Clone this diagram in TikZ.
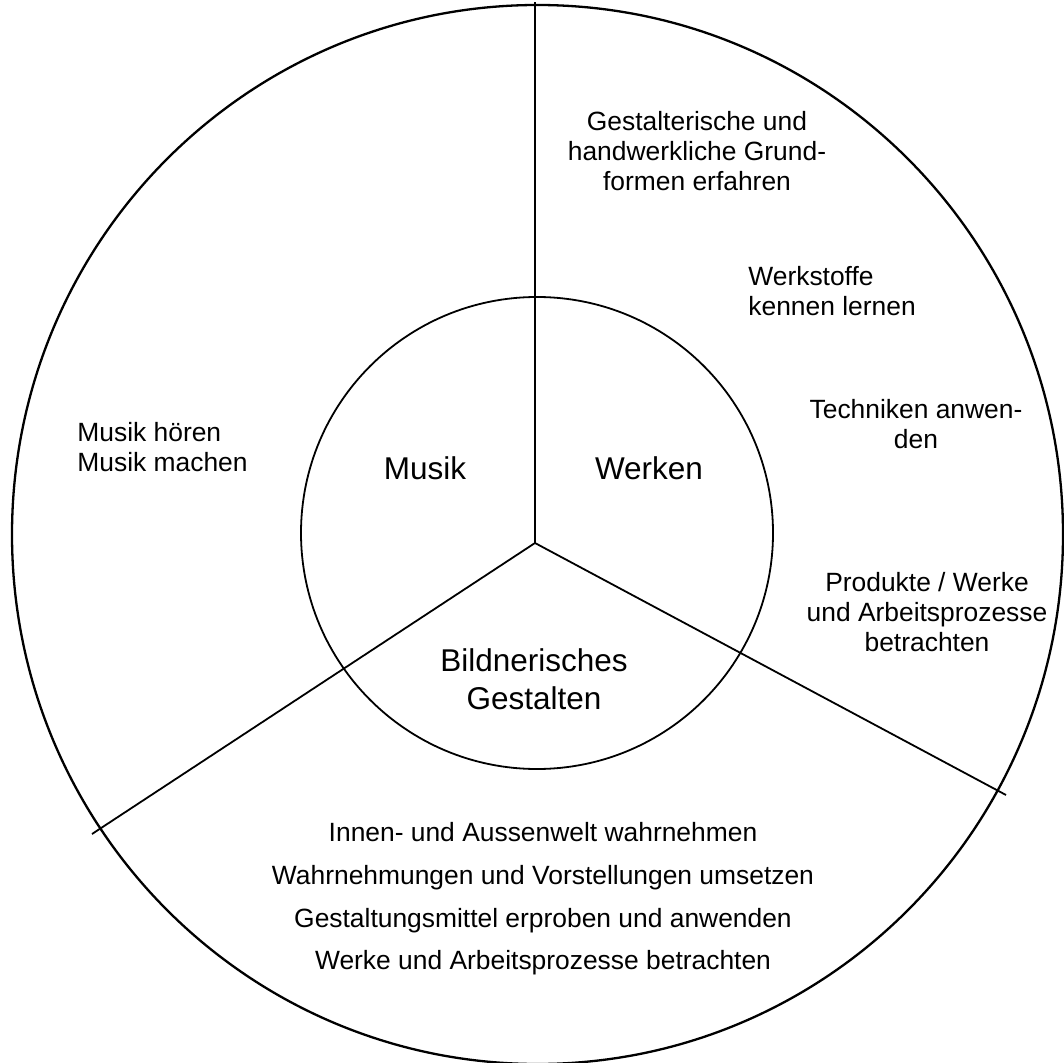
\documentclass[tikz,border=0pt]{standalone}
\usepackage{fontspec}
\setmainfont{Liberation Sans}
\begin{document}
\begin{tikzpicture}[x=0.5pt,y=-0.5pt,
  ring/.style={draw=black,line width=1.15pt},
  spoke/.style={draw=black,line width=0.9pt},
  item/.style={font=\fontsize{13.2}{15.2}\selectfont,inner sep=0pt},
  area/.style={font=\fontsize{15.75}{19}\selectfont,inner sep=0pt}]
\useasboundingbox (0,0) rectangle (1064,1063);
% centres and spoke ends
\coordinate (mid) at (537.5,534.5);
\coordinate (hub) at (535,543);
\coordinate (topend) at (535,2);
\coordinate (leftend) at (92,834);
\coordinate (rightend) at (1006,795);
% circles
\draw[ring] (mid) ellipse[x radius=262.75pt, y radius=264.75pt];
\draw[spoke] (537,533) circle[radius=118pt];
% spokes
\draw[spoke] (hub) -- (topend);
\draw[spoke] (hub) -- (leftend);
\draw[spoke] (hub) -- (rightend);
% inner labels
\node[area,anchor=base] (musik) at (425,480) {Musik};
\node[area,anchor=base] (werken) at (649,480) {Werken};
\node[area,align=center] (bild) at (534,679) {Bildnerisches\\Gestalten};
% outer labels
\node[item,align=center] (grund) at (697,151) {Gestalterische und\\handwerkliche Grund-\\formen erfahren};
\node[item,align=left,anchor=west] (stoffe) at (748,291) {Werkstoffe\\kennen lernen};
\node[item,align=center] (tech) at (916,424) {Techniken anwen-\\den};
\node[item,align=center] (prod) at (927,612) {Produkte / Werke\\und Arbeitsprozesse\\betrachten};
\node[item,align=left,anchor=west] (mus) at (77,447) {Musik hören\\Musik machen};
\node[item,align=center,font=\fontsize{13.2}{21.3}\selectfont] (bg) at (543,899) {Innen- und Aussenwelt wahrnehmen\\Wahrnehmungen und Vorstellungen umsetzen\\Gestaltungsmittel erproben und anwenden\\Werke und Arbeitsprozesse betrachten};
\end{tikzpicture}
\end{document}
